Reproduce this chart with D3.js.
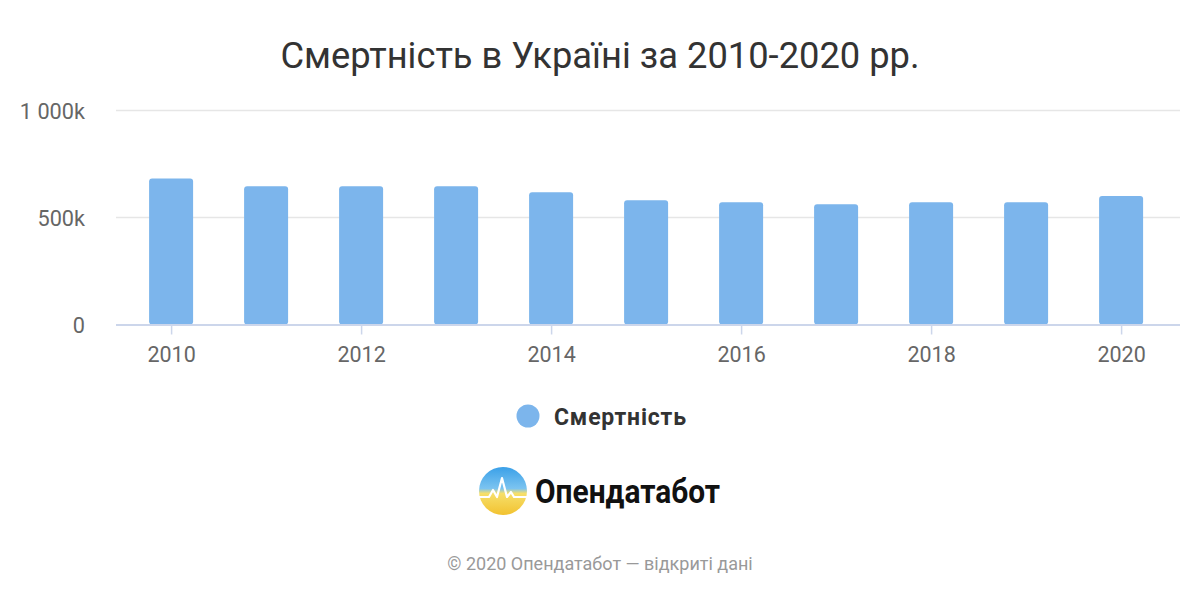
<!DOCTYPE html>
<html><head><meta charset="utf-8">
<script src="https://cdn.jsdelivr.net/npm/d3@7"></script>
<style>body{margin:0;background:#fff}svg{display:block;font-family:Roboto,"Noto Sans",sans-serif}</style>
</head><body>
<svg id="c" width="1200" height="600"></svg>
<script>
const years = [2010,2011,2012,2013,2014,2015,2016,2017,2018,2019,2020];
const deaths = [682,646,646,646,618,581,571,562,571,571,600]; // thousands
const yTicks = [0,500,1000];
const yTickLabels = ["0","500k","1 000k"];
const xTicks = [2010,2012,2014,2016,2018,2020];
const title = "Смертність в Україні за 2010-2020 рр.";
const seriesName = "Смертність";

const svg = d3.select("#c");
const L=116,R=1180,T=110.5,B=324.5;
const x = d3.scaleLinear().domain([2009.42,2020.62]).range([L,R]);
const y = d3.scaleLinear().domain([0,1000]).range([B,T]);

svg.append("text").attr("x",600).attr("y",68).attr("text-anchor","middle")
  .attr("font-size",36.3).attr("fill","#333").text(title);

// grid
svg.append("g").selectAll("line").data(yTicks.filter(d=>d>0)).join("line")
  .attr("x1",L).attr("x2",R).attr("y1",d=>y(d)).attr("y2",d=>y(d))
  .attr("stroke","#e6e6e6").attr("stroke-width",1.5);

// y axis labels
const ya = svg.append("g").attr("transform",`translate(${L},0)`)
  .call(d3.axisLeft(y).tickValues(yTicks).tickSize(0).tickPadding(31)
  .tickFormat((d,i)=>yTickLabels[i]));
ya.select(".domain").remove();
ya.selectAll("text").attr("font-size",21.7).attr("fill","#666").attr("font-family","Roboto").attr("dy","0.35em");

// bars
const bw=44;
svg.append("g").selectAll("rect").data(years).join("rect")
  .attr("x",(d)=>x(d)-bw/2).attr("width",bw)
  .attr("y",(d,i)=>y(deaths[i])).attr("height",(d,i)=>y(0)-y(deaths[i]))
  .attr("rx",3).attr("fill","#7cb5ec");

// x axis
const xa = svg.append("g").attr("transform",`translate(0,${B})`)
  .call(d3.axisBottom(x).tickValues(xTicks).tickSize(10).tickPadding(12).tickFormat(d3.format("d")));
xa.select(".domain").attr("d",`M${L},0.5H${R}`).attr("stroke","#ccd6eb").attr("stroke-width",2);
xa.selectAll(".tick line").attr("stroke","#ccd6eb").attr("stroke-width",1.5);
xa.selectAll("text").attr("font-size",21.5).attr("fill","#666").attr("font-family","Roboto");

// legend
svg.append("circle").attr("cx",528).attr("cy",416).attr("r",11.5).attr("fill","#7cb5ec");
svg.append("text").attr("x",554).attr("y",424.5).attr("font-size",23).attr("font-weight","bold")
  .attr("fill","#333").attr("textLength",132).text(seriesName);

// logo
const defs = svg.append("defs");
const g = defs.append("linearGradient").attr("id","lg").attr("x1",0).attr("y1",0).attr("x2",0).attr("y2",1);
g.append("stop").attr("offset","0%").attr("stop-color","#3aa0e8");
g.append("stop").attr("offset","45%").attr("stop-color","#7cc4f0");
g.append("stop").attr("offset","55%").attr("stop-color","#f6df6a");
g.append("stop").attr("offset","100%").attr("stop-color","#f2c230");
svg.append("circle").attr("cx",503).attr("cy",491).attr("r",24).attr("fill","url(#lg)");
svg.append("path").attr("d","M479,497 L489,497 L493,490 L497,497 L502,478 L507,497 L511,492 L514,497 L527,497")
  .attr("fill","none").attr("stroke","#fff").attr("stroke-width",2.2).attr("stroke-linejoin","round");
svg.append("text").attr("x",535).attr("y",503).attr("font-size",33).attr("font-weight","bold")
  .attr("fill","#111").attr("textLength",185).attr("lengthAdjust","spacingAndGlyphs").text("Опендатабот");

svg.append("text").attr("x",600).attr("y",570).attr("text-anchor","middle")
  .attr("font-size",18).attr("fill","#999").text("© 2020 Опендатабот — відкриті дані");
</script>
</body></html>
